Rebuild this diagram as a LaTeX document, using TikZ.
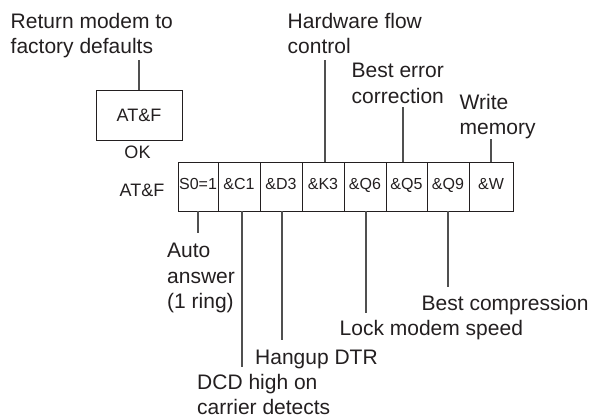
\documentclass[tikz,border=0pt]{standalone}
\usepackage{fontspec}
\setmainfont{Liberation Sans}
\definecolor{ink}{HTML}{231F20}
\definecolor{wirec}{HTML}{505050}
\tikzset{
 lbl/.style={anchor=north west, inner sep=0pt, align=left, text=ink, font=\fontsize{21}{25.5}\selectfont},
 cell/.style={draw=ink, line width=0.9pt, minimum height=49pt, inner sep=0pt, text=ink,
   font=\fontsize{16}{19}\selectfont, text height=12pt, text depth=6pt},
 cmd/.style={inner sep=0pt, text=ink, font=\fontsize{18}{21}\selectfont},
 wire/.style={draw=wirec, line width=1.3pt},
}
\begin{document}
\begin{tikzpicture}[x=1pt,y=-1pt]
\useasboundingbox (0,0) rectangle (592,418);
% labels
\node[lbl] (ret) at (10.5,13) {Return modem to\\factory defaults};
\node[lbl] (hw) at (287.5,13) {Hardware flow\\control};
\node[lbl] (be) at (351.5,63) {Best error\\correction};
\node[lbl] (wm) at (459.5,94) {Write\\memory};
\node[lbl] (aa) at (167,243) {Auto\\answer\\(1 ring)};
\node[lbl, font=\fontsize{21}{25}\selectfont] (dcd) at (197,374) {DCD high on\\carrier detects};
\node[lbl] (hd) at (255,350) {Hangup DTR};
\node[lbl] (lm) at (339.5,320) {Lock modem speed};
\node[lbl] (bc) at (421.5,295) {Best compression};
% top box
\node[cmd, draw=ink, line width=0.9pt, minimum width=86pt, minimum height=50pt] (topbox) at (139,115) {AT\&F};
\node[cmd] (ok) at (137.5,152) {OK};
% command row
\node[cmd] (atf) at (142,190) {AT\&F};
\node[cell, minimum width=40pt] (c1) at (198,186.5) {S0=1};
\node[cell, minimum width=42pt] (c2) at (239,186.5) {\&C1};
\node[cell, minimum width=42pt] (c3) at (281,186.5) {\&D3};
\node[cell, minimum width=42pt] (c4) at (323,186.5) {\&K3};
\node[cell, minimum width=42pt] (c5) at (365,186.5) {\&Q6};
\node[cell, minimum width=41pt] (c6) at (406.5,186.5) {\&Q5};
\node[cell, minimum width=42pt] (c7) at (448,186.5) {\&Q9};
\node[cell, minimum width=44pt] (c8) at (491,186.5) {\&W};
% connector ends
\coordinate (e0) at (139,60);
\coordinate (e4) at (325,60);
\coordinate (e6) at (403,107);
\coordinate (e8) at (491,139);
\coordinate (e1) at (198,233);
\coordinate (e2) at (242,367);
\coordinate (e3) at (282,340);
\coordinate (e5) at (366,313);
\coordinate (e7) at (448,287);
% connectors
\draw[wire] (e0) -- (topbox.north);
\draw[wire] (e4) -- (e4 |- c4.north);
\draw[wire] (e6) -- (e6 |- c6.north);
\draw[wire] (e8) -- (e8 |- c8.north);
\draw[wire] (e1 |- c1.south) -- (e1);
\draw[wire] (e2 |- c2.south) -- (e2);
\draw[wire] (e3 |- c3.south) -- (e3);
\draw[wire] (e5 |- c5.south) -- (e5);
\draw[wire] (e7 |- c7.south) -- (e7);
\end{tikzpicture}
\end{document}
